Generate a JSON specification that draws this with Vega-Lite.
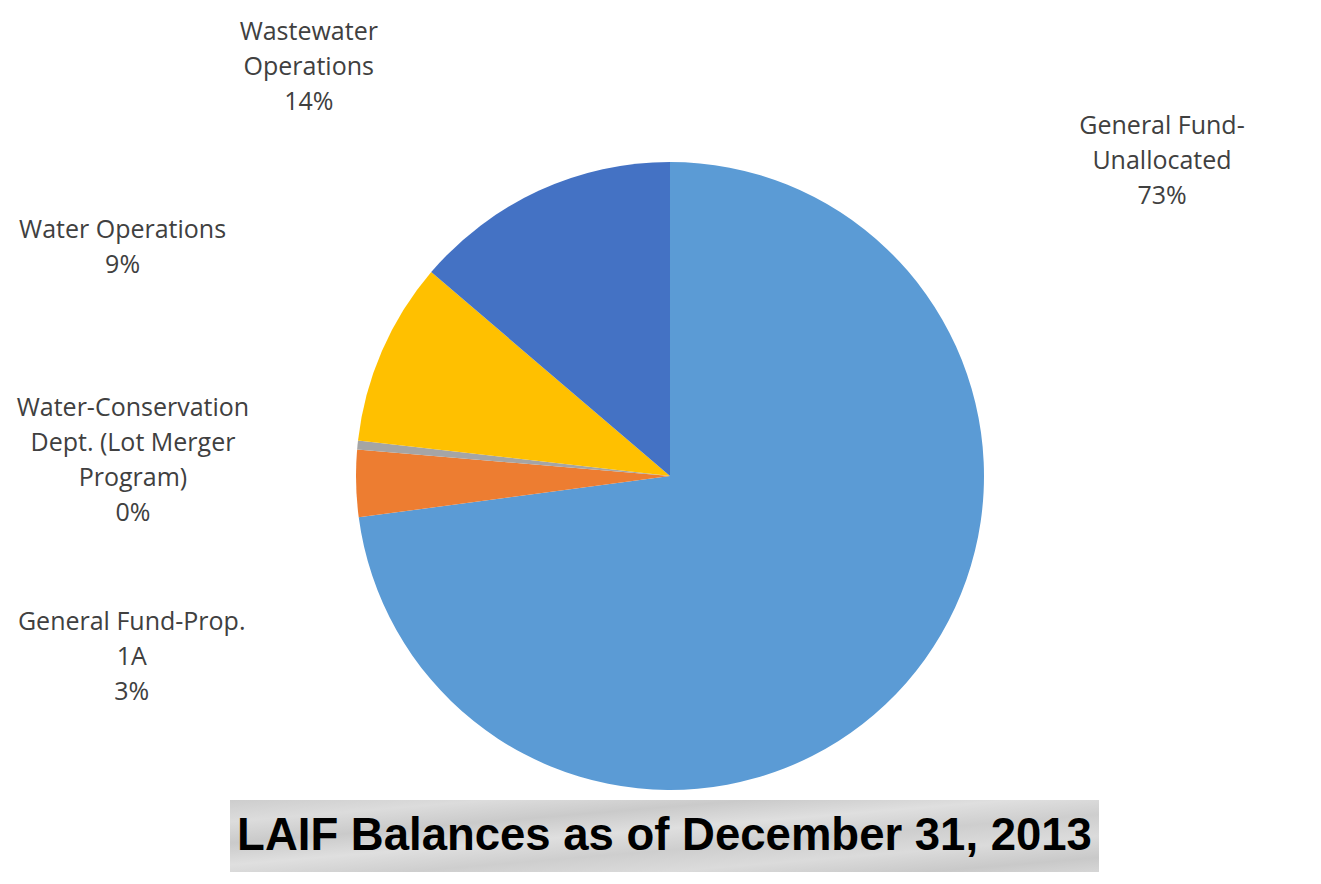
{
  "$schema": "https://vega.github.io/schema/vega-lite/v6.json",
  "padding": {"left": 7, "top": 8, "right": 5, "bottom": 5},
  "background": "#ffffff",
  "config": {"view": {"stroke": null}},
  "columns": 2,
  "spacing": {"row": 8, "column": 0},
  "bounds": "flush",
  "align": "each",
  "concat": [
    {
      "width": 223,
      "height": 144,
      "data": {"values": []},
      "mark": "point"
    },
    {
      "width": 1,
      "height": 144,
      "data": {"values": []},
      "mark": "point"
    },
    {
      "width": 223,
      "height": 632,
      "data": {"values": []},
      "mark": "point"
    },
    {
      "width": 880,
      "height": 632,
      "data": {
        "values": [
          {"rank": 1, "category": "General Fund-Unallocated", "value": 72.9, "label": "General Fund-\nUnallocated\n73%"},
          {"rank": 2, "category": "General Fund-Prop. 1A", "value": 3.45, "label": "General Fund-Prop.\n1A\n3%"},
          {"rank": 3, "category": "Water-Conservation Dept. (Lot Merger Program)", "value": 0.45, "label": "Water-Conservation\nDept. (Lot Merger\nProgram)\n0%"},
          {"rank": 4, "category": "Water Operations", "value": 9.45, "label": "Water Operations\n9%"},
          {"rank": 5, "category": "Wastewater Operations", "value": 13.75, "label": "Wastewater\nOperations\n14%"}
        ]
      },
      "transform": [
        {"stack": "value", "groupby": [], "sort": [{"field": "rank", "order": "ascending"}], "as": ["v0", "v1"]}
      ],
      "layer": [
        {
          "mark": {"type": "arc", "outerRadius": 314},
          "encoding": {
            "theta": {"field": "v0", "type": "quantitative", "stack": null, "scale": {"domain": [0, 100]}},
            "theta2": {"field": "v1"},
            "color": {
              "field": "category",
              "type": "nominal",
              "scale": {
                "domain": ["General Fund-Unallocated", "General Fund-Prop. 1A", "Water-Conservation Dept. (Lot Merger Program)", "Water Operations", "Wastewater Operations"],
                "range": ["#5B9BD5", "#ED7D31", "#A5A5A5", "#FFC000", "#4472C4"]
              },
              "legend": null
            }
          }
        },
        {
          "transform": [{"filter": "datum.category === 'Wastewater Operations'"}],
          "mark": {"type": "text", "dx": 57, "dy": -87, "align": "center", "baseline": "middle", "lineBreak": "\n", "lineHeight": 35, "font": "Open Sans", "fontSize": 25, "color": "#404040"},
          "encoding": {
            "theta": {"field": "v0", "type": "quantitative", "stack": null, "scale": {"domain": [0, 100]}},
            "radius": {"value": 550},
            "text": {"field": "label", "type": "nominal"}
          }
        },
        {
          "transform": [{"filter": "datum.category === 'General Fund-Unallocated'"}],
          "mark": {"type": "text", "dx": 492, "dy": -35, "align": "center", "baseline": "middle", "lineBreak": "\n", "lineHeight": 35, "font": "Open Sans", "fontSize": 25, "color": "#404040"},
          "encoding": {
            "theta": {"field": "v0", "type": "quantitative", "stack": null, "scale": {"domain": [0, 100]}},
            "radius": {"value": 315},
            "text": {"field": "label", "type": "nominal"}
          }
        },
        {
          "transform": [{"filter": "datum.category === 'Water Operations'"}],
          "mark": {"type": "text", "dx": 9, "dy": -183, "align": "center", "baseline": "middle", "lineBreak": "\n", "lineHeight": 35, "font": "Open Sans", "fontSize": 25, "color": "#404040"},
          "encoding": {
            "theta": {"field": "v0", "type": "quantitative", "stack": null, "scale": {"domain": [0, 100]}},
            "radius": {"value": 560},
            "text": {"field": "label", "type": "nominal"}
          }
        },
        {
          "transform": [{"filter": "datum.category === 'Water-Conservation Dept. (Lot Merger Program)'"}],
          "mark": {"type": "text", "dx": 1, "dy": -22, "align": "center", "baseline": "middle", "lineBreak": "\n", "lineHeight": 35, "font": "Open Sans", "fontSize": 25, "color": "#404040"},
          "encoding": {
            "theta": {"field": "v0", "type": "quantitative", "stack": null, "scale": {"domain": [0, 100]}},
            "radius": {"value": 540},
            "text": {"field": "label", "type": "nominal"}
          }
        },
        {
          "transform": [{"filter": "datum.category === 'General Fund-Prop. 1A'"}],
          "mark": {"type": "text", "dx": -3, "dy": 75, "align": "center", "baseline": "middle", "lineBreak": "\n", "lineHeight": 35, "font": "Open Sans", "fontSize": 25, "color": "#404040"},
          "encoding": {
            "theta": {"field": "v0", "type": "quantitative", "stack": null, "scale": {"domain": [0, 100]}},
            "radius": {"value": 540},
            "text": {"field": "label", "type": "nominal"}
          }
        }
      ]
    },
    {
      "width": 223,
      "height": 72,
      "data": {"values": []},
      "mark": "point"
    },
    {
      "width": 869,
      "height": 72,
      "view": {
        "stroke": null,
        "fill": {
          "gradient": "linear",
          "x1": 0, "y1": 0, "x2": 1, "y2": 1,
          "stops": [
            {"offset": 0, "color": "#cdcdcd"},
            {"offset": 0.15, "color": "#dcdcdc"},
            {"offset": 0.3, "color": "#cacaca"},
            {"offset": 0.45, "color": "#dfdfdf"},
            {"offset": 0.6, "color": "#cecece"},
            {"offset": 0.75, "color": "#dbdbdb"},
            {"offset": 0.9, "color": "#c9c9c9"},
            {"offset": 1, "color": "#d6d6d6"}
          ]
        }
      },
      "data": {"values": [{"title": "LAIF Balances as of December 31, 2013"}]},
      "mark": {"type": "text", "align": "center", "baseline": "middle", "font": "Liberation Sans", "fontWeight": "bold", "fontSize": 45.5, "color": "#000000"},
      "encoding": {
        "text": {"field": "title", "type": "nominal"}
      }
    }
  ]
}
